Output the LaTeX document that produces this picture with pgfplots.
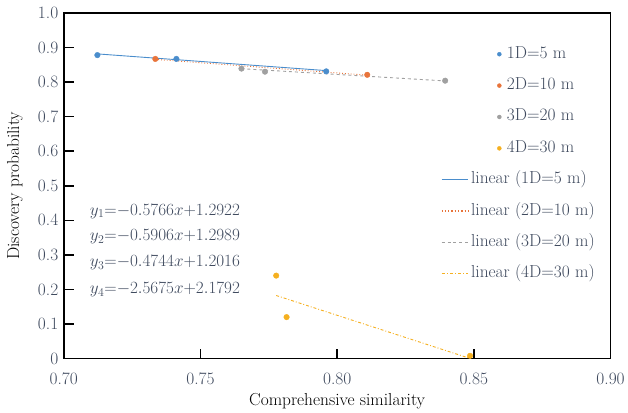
\documentclass[border=0pt]{standalone}
\usepackage{pgfplots}
\pgfplotsset{compat=1.18}
\definecolor{textc}{HTML}{3F4A5E}
\definecolor{cblue}{HTML}{4A8DCC}
\definecolor{corange}{HTML}{E8743B}
\definecolor{cgray}{HTML}{A0A0A0}
\definecolor{cyellow}{HTML}{F5B020}
\pgfplotsset{
  markleg/.style={legend image code/.code={\draw[overlay,mark size=2bp,##1] plot coordinates {(58bp,0bp)};}},
  lineleg/.style 2 args={legend image code/.code={\begin{scope}\color{#1}\draw[line width=1.3bp, #2, #1] (0bp,0bp) -- (27bp,0bp);\end{scope}}},
  pts/.style={only marks, mark=*, mark size=2.8bp, mark options={draw=#1, fill=#1}, color=#1, on layer=axis foreground, markleg},
}
\begin{document}
\begin{tikzpicture}
\begin{axis}[
  set layers,
  scale only axis, width=549bp, height=347bp,
  font=\fontsize{17.5}{20}\selectfont,
  xmin=0.70, xmax=0.90, ymin=0, ymax=1.0,
  xtick={0.70,0.75,0.80,0.85,0.90},
  xticklabels={0.70,0.75,0.80,0.85,0.90},
  ytick={0,0.1,0.2,0.3,0.4,0.5,0.6,0.7,0.8,0.9,1.0},
  yticklabels={0,0.1,0.2,0.3,0.4,0.5,0.6,0.7,0.8,0.9,1.0},
  tick align=inside, xtick pos=bottom, ytick pos=left,
  major tick length=10bp,
  tick style={line width=1.6bp, black},
  axis line style={line width=1.8bp},
  ticklabel style={text=textc},
  xticklabel style={anchor=base, yshift=-26bp},
  yticklabel style={xshift=-2bp},
  label style={text=textc},
  xlabel={Comprehensive similarity},
  ylabel={Discovery probability},
  every axis x label/.style={at={(axis description cs:0.5,-0.124)}, anchor=center},
  every axis y label/.style={at={(axis description cs:-0.0893,0.5)}, rotate=90, anchor=center},
  legend style={draw=none, fill=none, inner sep=0pt, at={(0.975,0.91)}, anchor=north east,
    row sep=11.5bp,
    nodes={text=textc, text height=12bp, text depth=4bp, inner sep=2bp}},
  legend cell align=left,
]
\addplot[pts=cblue] coordinates {(0.7123,0.878) (0.7412,0.867) (0.7960,0.831)};
\addlegendentry{\hspace{36bp}1D=5 m}
\addplot[pts=corange] coordinates {(0.7335,0.867) (0.8110,0.821)};
\addlegendentry{\hspace{36bp}2D=10 m}
\addplot[pts=cgray] coordinates {(0.7650,0.839) (0.7736,0.830) (0.8395,0.804)};
\addlegendentry{\hspace{36bp}3D=20 m}
\addplot[pts=cyellow] coordinates {(0.7777,0.240) (0.7815,0.120) (0.8486,0.008)};
\addlegendentry{\hspace{36bp}4D=30 m}

\addplot[draw=cblue, line width=0.9bp, lineleg={cblue}{solid}] coordinates {(0.7123,0.8815) (0.7960,0.8332)};
\addlegendentry{linear (1D=5 m)}
\addplot[draw=corange, line width=0.9bp, dotted, lineleg={corange}{dotted}] coordinates {(0.7335,0.8657) (0.8110,0.8199)};
\addlegendentry{linear (2D=10 m)}
\addplot[draw=cgray, line width=0.9bp, dashed, lineleg={cgray}{dashed}] coordinates {(0.7650,0.8387) (0.8395,0.8033)};
\addlegendentry{linear (3D=20 m)}
\addplot[draw=cyellow, line width=0.9bp, dash dot, lineleg={cyellow}{dash dot}] coordinates {(0.7777,0.1825) (0.8486,0.0004)};
\addlegendentry{linear (4D=30 m)}

\node[anchor=west, text=textc, inner sep=0pt] at (axis cs:0.7095,0.4265) {$y_1{=}{-}0.5766x{+}1.2922$};
\node[anchor=west, text=textc, inner sep=0pt] at (axis cs:0.7095,0.352) {$y_2{=}{-}0.5906x{+}1.2989$};
\node[anchor=west, text=textc, inner sep=0pt] at (axis cs:0.7095,0.277) {$y_3{=}{-}0.4744x{+}1.2016$};
\node[anchor=west, text=textc, inner sep=0pt] at (axis cs:0.7095,0.199) {$y_4{=}{-}2.5675x{+}2.1792$};
\end{axis}
\path ([shift={(-64bp,-53bp)}]current axis.south west) rectangle ([shift={(15bp,13bp)}]current axis.north east);
\end{tikzpicture}
\end{document}
